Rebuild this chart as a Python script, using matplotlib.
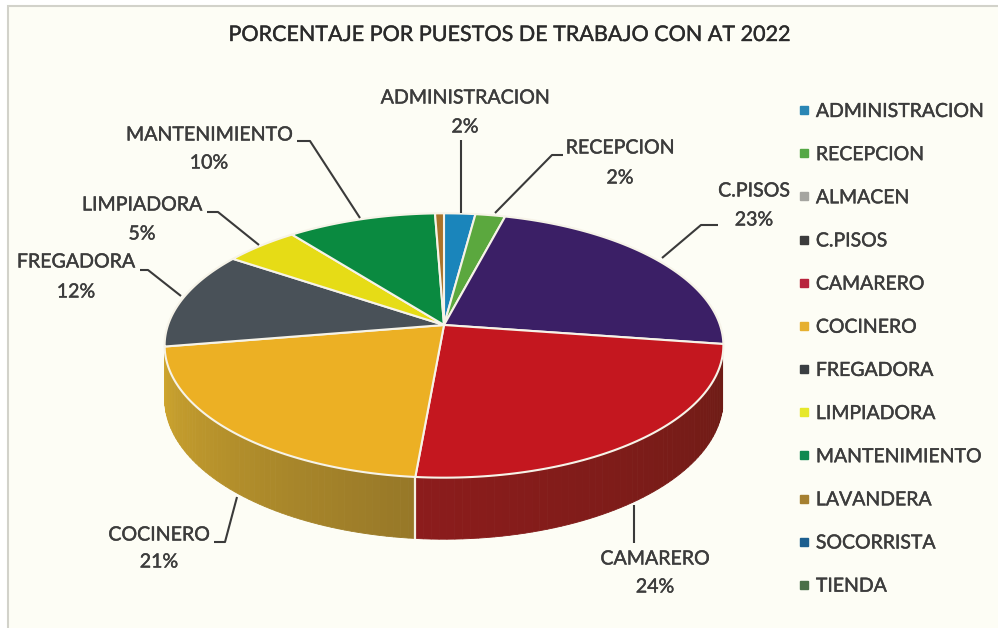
import numpy as np
import matplotlib
matplotlib.use("Agg")
import matplotlib.pyplot as plt
import matplotlib.patheffects as pe
from matplotlib.lines import Line2D
from matplotlib.patches import Polygon, Rectangle

plt.rcParams['font.family'] = ['Lato', 'DejaVu Sans']

TITLE = "PORCENTAJE POR PUESTOS DE TRABAJO CON AT 2022"

categories = ["ADMINISTRACION", "RECEPCION", "ALMACEN", "C.PISOS", "CAMARERO", "COCINERO",
              "FREGADORA", "LIMPIADORA", "MANTENIMIENTO", "LAVANDERA", "SOCORRISTA", "TIENDA"]
values = [2.1, 2.0, 0.0, 23.2, 24.1, 21.0, 12.0, 5.0, 10.0, 0.6, 0.0, 0.0]

# slice colours, and the legend keys where the scan shows them differently
slice_colors = ["#1a85bb", "#5ba83e", "#a5a5a5", "#3b1f66", "#c4171f", "#ecb024",
                "#495158", "#e6dc16", "#0a8a40", "#a9732a", "#1c5f8f", "#3f7a3f"]
legend_colors = ["#2a86b4", "#55a845", "#a5a5a0", "#3c3c3c", "#b8233c", "#e6b030",
                 "#3a3e42", "#e6e82a", "#0f8a50", "#a58030", "#1c5f8f", "#4a7048"]

# wall shading, left-to-right along the front of the pie
wall_colors = {"COCINERO": ("#cfa62e", "#977828"), "CAMARERO": ("#8c1c1c", "#6e1c16")}

# label layout: centre x, y of name, y of percent
label_cats = ["ADMINISTRACION", "RECEPCION", "C.PISOS", "CAMARERO", "COCINERO",
              "FREGADORA", "LIMPIADORA", "MANTENIMIENTO"]
label_x = [465, 620, 754, 655, 159, 76, 142, 209]
label_y = [98, 148, 191, 559, 535, 262, 205, 135]
pct_y = [127, 178, 220, 587, 562, 292, 234, 163]
leaders = [
    [(461, 140), (461, 213)],
    [(563, 155), (552, 155), (495, 213)],
    [(718, 225), (701, 225), (662, 258)],
    [(634, 505), (634, 543)],
    [(214, 542), (225, 542), (237, 497)],
    [(140, 270), (148, 270), (181, 296)],
    [(207, 212), (218, 212), (259, 245)],
    [(297, 141), (310, 141), (360, 218)],
]

# projection of the pie disc, in figure pixels
CX, CY = 444, 325
RX, RY = 276, 129
PERSP = 0.155
DEPTH = 52
WALL_START = 103
BG = "#fdfdf5"
TEXT = "#3c3c3c"

# the scan thickens the type a little
HEAVY = [pe.withStroke(linewidth=0.3, foreground=TEXT)]


def project(theta, r=1.0, drop=0.0):
    # theta clockwise from the top, degrees
    t = np.radians(theta)
    u = r * np.sin(t)
    v = r * np.cos(t)
    s = 1.0 / (1.0 + PERSP * v)
    return CX + RX * u * s, CY - RY * v * s + drop * s


fig = plt.figure(figsize=(9.98, 6.28), dpi=100, facecolor="white")
ax = fig.add_axes([0, 0, 1, 1])
ax.set_xlim(0, 998)
ax.set_ylim(628, 0)
ax.axis("off")

ax.add_patch(Rectangle((8, 6), 1100, 700, fc=BG, ec="#d2d2ca", lw=1.5, zorder=0))

total = sum(values)
edges = np.concatenate([[0], np.cumsum(values)]) / total * 360.0

# side wall of the front slices
for i, name in enumerate(categories):
    if name not in wall_colors:
        continue
    lo, hi = max(edges[i], WALL_START), edges[i + 1]
    steps = np.linspace(lo, hi, 60)
    c_right = np.array(matplotlib.colors.to_rgb(wall_colors[name][1]))
    c_left = np.array(matplotlib.colors.to_rgb(wall_colors[name][0]))
    for j in range(len(steps) - 1):
        b0, b1 = steps[j], steps[j + 1]
        x0, y0 = project(b0)
        x1, y1 = project(b1)
        x2, y2 = project(b1, drop=DEPTH)
        x3, y3 = project(b0, drop=DEPTH)
        pos = j / (len(steps) - 2)
        col = tuple(c_right * (1 - pos) + c_left * pos)
        ax.add_patch(Polygon([(x0, y0), (x1, y1), (x2, y2), (x3, y3)], closed=True,
                             fc=col, ec=col, lw=0.6, zorder=1))

# seam between the two visible walls
seam = edges[categories.index("CAMARERO") + 1]
sx0, sy0 = project(seam)
sx1, sy1 = project(seam, drop=DEPTH)
ax.plot([sx0, sx1], [sy0, sy1], color="#f4efe2", lw=1.6, zorder=2)

# top face
for i in range(len(categories)):
    if values[i] == 0:
        continue
    th = np.linspace(edges[i], edges[i + 1], 80)
    px, py = project(th)
    pts = [(CX, CY)] + list(zip(px, py))
    ax.add_patch(Polygon(pts, closed=True, fc=slice_colors[i], ec="#f6f3e8", lw=1.5, zorder=3, joinstyle="round"))

for name, lx, ly, py, seg in zip(label_cats, label_x, label_y, pct_y, leaders):
    val = values[categories.index(name)]
    ax.text(lx, ly, name, ha="center", va="center", fontsize=14.1, color=TEXT, zorder=6, path_effects=HEAVY)
    ax.text(lx, py, "%d%%" % round(val), ha="center", va="center", fontsize=14.1, color=TEXT, zorder=6,
            path_effects=HEAVY)
    xs, ys = zip(*seg)
    ax.plot(xs, ys, color="#3a3a3a", lw=1.5, solid_capstyle="butt", zorder=5)

ax.text(509, 35, TITLE, ha="center", va="center", fontsize=15.5, color="#2a2a2a", path_effects=HEAVY)

handles = [Line2D([], [], ls="", marker="s", ms=5.5, mfc=c, mec=c, label=n)
           for n, c in zip(categories, legend_colors)]
leg = ax.legend(handles=handles, loc="upper left", bbox_to_anchor=(0.80, 0.836), frameon=False,
                fontsize=14.0, labelcolor=TEXT, labelspacing=1.345, handletextpad=0.3,
                handlelength=0.6, borderpad=0, borderaxespad=0)
leg.set_zorder(6)
for t in leg.get_texts():
    t.set_path_effects(HEAVY)

fig.savefig("out.png", dpi=100, facecolor=fig.get_facecolor())
